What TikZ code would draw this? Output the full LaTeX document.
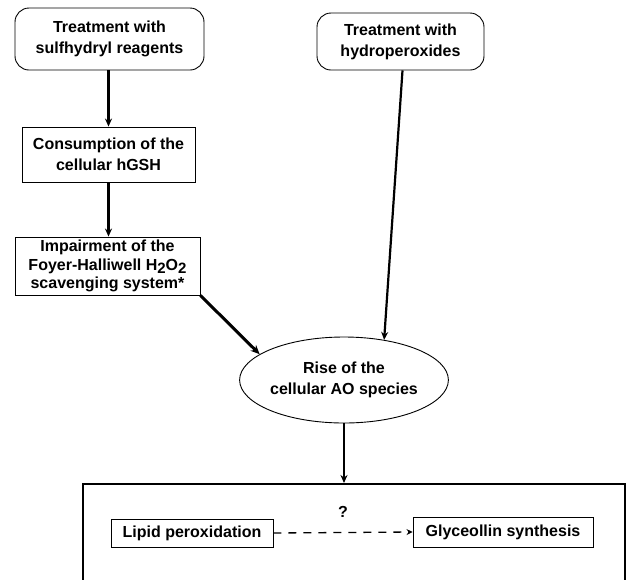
\documentclass[tikz,border=0pt]{standalone}
\usepackage{fontspec}
\setmainfont{Liberation Sans}
\usetikzlibrary{arrows.meta,shapes.geometric,calc}
\newcommand{\subtwo}{\raisebox{-3pt}{\fontsize{15}{15}\selectfont 2}}
\begin{document}
\begin{tikzpicture}[x=1pt,y=-1pt,
  txt/.style={font=\fontsize{16}{21}\selectfont\bfseries, align=center, inner sep=0pt},
  roundbox/.style={txt, draw, line width=0.9pt, rounded corners=14pt},
  plainbox/.style={txt, draw, line width=0.9pt},
  ovalbox/.style={txt, draw, ellipse, line width=0.9pt},
  flow/.style={line width=2.2pt, -{Stealth[length=8pt,width=7pt]}},
  heavyflow/.style={line width=3pt, -{Stealth[length=9pt,width=8pt]}},
  maybeflow/.style={line width=1.3pt, dash pattern=on 8pt off 7pt, -{Stealth[length=6pt,width=6pt]}},
  frame/.style={draw, line width=2pt, inner sep=0pt}
]
\useasboundingbox (0,0) rectangle (629,579);

\node[roundbox, minimum width=189pt, minimum height=62pt] (A) at (109.5,39) {Treatment with\\sulfhydryl reagents};
\node[plainbox, minimum width=173pt, minimum height=55pt] (B) at (108.5,154.5) {Consumption of the\\cellular hGSH};
\node[plainbox, minimum width=185pt, minimum height=58pt, font=\fontsize{16}{18.5}\selectfont\bfseries] (C) at (107.5,266) {Impairment of the\\Foyer-Halliwell H\subtwo O\subtwo\\scavenging system*};
\node[roundbox, minimum width=167pt, minimum height=57pt] (D) at (400.5,41.5) {Treatment with\\hydroperoxides};
\node[ovalbox, minimum width=178pt, minimum height=86pt] (E) at (344,380) {Rise of the\\cellular AO species};

\node[frame, minimum width=542pt, minimum height=160pt] (F) at (354,564) {};
\node[plainbox, minimum width=162pt, minimum height=28pt] (L) at (192,533) {Lipid peroxidation};
\node[plainbox, minimum width=180pt, minimum height=30pt] (G) at (503,532) {Glyceollin synthesis};

\draw[flow] (B.north |- A.south) -- (B.north);
\draw[flow] (B.south) -- (B.south |- C.north);
\draw[flow] ($(D.south)+(2,0)$) -- (E.45);
\draw[heavyflow] (C.south east) -- (E.163);
\draw[flow] (E.south) -- (E.south |- F.north);
\draw[maybeflow] (L.east) -- node[txt, above=14pt] (Q) {?} (G.west);
\end{tikzpicture}
\end{document}
